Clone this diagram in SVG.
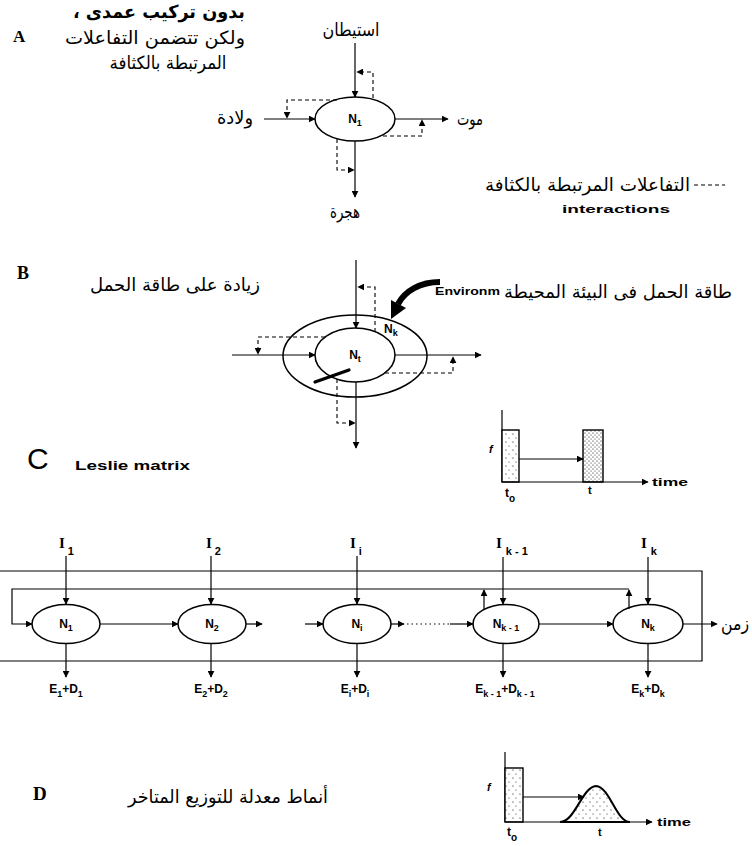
<svg xmlns="http://www.w3.org/2000/svg" width="752" height="846" viewBox="0 0 752 846">
  <defs>
    <style>
      .ln { stroke: #000; stroke-width: 1.2; fill: none; }
      .dash { stroke: #000; stroke-width: 1.1; fill: none; stroke-dasharray: 4 3; }
      .ell { stroke: #000; stroke-width: 1.5; fill: #fff; }
      .ar { font-family: "DejaVu Sans", sans-serif; font-size: 18px; fill: #000; }
      .lat { font-family: "Liberation Sans", Arial, sans-serif; font-weight: bold; fill: #000; }
      .ser { font-family: "Liberation Serif", "Times New Roman", serif; font-weight: bold; fill: #000; }
      .nd { font-family: "Liberation Sans", Arial, sans-serif; font-weight: bold; font-size: 12px; fill: #000; }
      .sub { font-size: 9px; }
    </style>
    <marker id="ah" viewBox="0 0 10 10" refX="9" refY="5" markerWidth="7" markerHeight="7" markerUnits="userSpaceOnUse" orient="auto">
      <path d="M0,0 L10,5 L0,10 z" fill="#000"/>
    </marker>
    <pattern id="dotsSparse" width="7" height="8" patternUnits="userSpaceOnUse">
      <rect width="7" height="8" fill="#fff"/>
      <circle cx="2" cy="2" r="0.6" fill="#000"/>
      <circle cx="5" cy="6" r="0.5" fill="#000"/>
    </pattern>
    <pattern id="dotsDense" width="4" height="4" patternUnits="userSpaceOnUse">
      <rect width="4" height="4" fill="#fff"/>
      <circle cx="1" cy="1" r="0.6" fill="#000"/>
      <circle cx="3" cy="3" r="0.5" fill="#000"/>
    </pattern>
  </defs>

  <!-- Panel A: single population with density-dependent interactions -->
  <g id="panelA-labels">
    <text class="ser" x="13" y="42" font-size="17">A</text>
    <text class="ar" x="159" y="18" direction="rtl" text-anchor="middle" font-weight="bold" textLength="172" lengthAdjust="spacingAndGlyphs">بدون تركيب عمدى ،</text>
    <text class="ar" x="155" y="44" text-anchor="middle" textLength="180" lengthAdjust="spacingAndGlyphs">ولكن تتضمن التفاعلات</text>
    <text class="ar" x="168" y="69" text-anchor="middle" textLength="117" lengthAdjust="spacingAndGlyphs">المرتبطة بالكثافة</text>
    <text class="ar" x="351" y="36" text-anchor="middle" textLength="57" lengthAdjust="spacingAndGlyphs">استيطان</text>
    <text class="ar" x="253" y="124" text-anchor="end" textLength="36" lengthAdjust="spacingAndGlyphs">ولادة</text>
    <text class="ar" x="457" y="125" textLength="26" lengthAdjust="spacingAndGlyphs">موت</text>
    <text class="ar" x="345" y="218" text-anchor="middle" textLength="30" lengthAdjust="spacingAndGlyphs">هجرة</text>
    <text class="ar" x="690" y="191" text-anchor="end" textLength="205" lengthAdjust="spacingAndGlyphs">التفاعلات المرتبطة بالكثافة</text>
    <line class="dash" x1="694" y1="185" x2="725" y2="185" stroke-dasharray="4 2.5"/>
    <text class="lat" x="562" y="213" font-size="10" textLength="108" lengthAdjust="spacingAndGlyphs">interactions</text>
  </g>
  <g id="nodeA-N1">
    <ellipse class="ell" cx="355" cy="119" rx="40" ry="22"/>
    <text class="nd" x="355" y="123" text-anchor="middle">N<tspan class="sub" dy="3">1</tspan></text>
  </g>
  <g id="connectorsA">
    <path class="ln" d="M355,43 L355,97" marker-end="url(#ah)"/>
    <path class="ln" d="M264,119 L315,119" marker-end="url(#ah)"/>
    <path class="ln" d="M395,119 L448,119" marker-end="url(#ah)"/>
    <path class="ln" d="M355,141 L355,197" marker-end="url(#ah)"/>
    <path class="dash" d="M373,98 L373,72 L357,72" marker-end="url(#ah)"/>
    <path class="dash" d="M337,100 L287,100 L287,118" marker-end="url(#ah)"/>
    <path class="dash" d="M383,136 L422,136 L422,120" marker-end="url(#ah)"/>
    <path class="dash" d="M337,139 L337,170 L354,170" marker-end="url(#ah)"/>
  </g>

  <!-- Panel B: population within environmental carrying capacity -->
  <g id="panelB-labels">
    <text class="ser" x="17" y="279" font-size="18">B</text>
    <text class="ar" x="175" y="291" text-anchor="middle" textLength="170" lengthAdjust="spacingAndGlyphs">زيادة على طاقة الحمل</text>
    <text class="ar" x="732" y="298" text-anchor="end" textLength="228" lengthAdjust="spacingAndGlyphs">طاقة الحمل فى البيئة المحيطة</text>
    <text class="lat" x="435" y="295" font-size="10" textLength="65" lengthAdjust="spacingAndGlyphs">Environm</text>
  </g>
  <g id="nodeB-Nk">
    <ellipse class="ell" cx="355" cy="356" rx="72" ry="41"/>
    <text class="nd" x="384" y="333">N<tspan class="sub" dy="3">k</tspan></text>
  </g>
  <g id="nodeB-Nt">
    <ellipse class="ell" cx="355" cy="355" rx="40" ry="27"/>
    <text class="nd" x="355" y="359" text-anchor="middle">N<tspan class="sub" dy="3">t</tspan></text>
  </g>
  <g id="connectorsB">
    <path class="ln" d="M356,260 L356,328" marker-end="url(#ah)"/>
    <path class="ln" d="M232,355 L315,355" marker-end="url(#ah)"/>
    <path class="ln" d="M395,355 L481,355" marker-end="url(#ah)"/>
    <path class="ln" d="M356,382 L356,448" marker-end="url(#ah)"/>
    <path class="dash" d="M375,332 L375,287 L358,287" marker-end="url(#ah)"/>
    <path class="dash" d="M325,337 L258,337 L258,354" marker-end="url(#ah)"/>
    <path class="dash" d="M385,373 L453,373 L453,357" marker-end="url(#ah)"/>
    <path class="dash" d="M337,379 L337,423 L355,423" marker-end="url(#ah)"/>
    <line x1="315" y1="382" x2="349" y2="370" stroke="#000" stroke-width="3.2" stroke-linecap="round"/>
    <path d="M440,282 C420,282 405,291 398,304" stroke="#000" stroke-width="6" fill="none"/>
    <polygon points="391,319 391,300 406,308" fill="#000"/>
  </g>

  <!-- Panel C: pulse graph and Leslie matrix chain -->
  <g id="pulseC">
    <path class="ln" d="M502,410 L502,482"/>
    <rect x="502" y="430" width="17" height="52" fill="url(#dotsSparse)" stroke="#000" stroke-width="1.4"/>
    <rect x="583" y="430" width="20" height="52" fill="url(#dotsDense)" stroke="#000" stroke-width="1.4"/>
    <path class="ln" d="M519,459 L583,459" marker-end="url(#ah)"/>
    <path class="ln" d="M502,482 L648,482" stroke-width="1.5" marker-end="url(#ah)"/>
    <text class="lat" x="652" y="486" font-size="10" textLength="36" lengthAdjust="spacingAndGlyphs">time</text>
    <text class="lat" x="489" y="453" font-size="11" font-style="italic">f</text>
    <text class="lat" x="505" y="497" font-size="12">t<tspan font-size="10" dy="5">o</tspan></text>
    <text class="lat" x="588" y="494" font-size="11">t</text>
  </g>
  <g id="panelC-labels">
    <text x="27" y="469" font-family="'Liberation Sans', Arial, sans-serif" font-size="30" fill="#000">C</text>
    <text class="lat" x="75" y="470" font-size="12" textLength="115" lengthAdjust="spacingAndGlyphs">Leslie matrix</text>
    <text class="ar" x="749" y="630" text-anchor="end" textLength="28" lengthAdjust="spacingAndGlyphs">زمن</text>
  </g>
  <g id="frameC">
    <path class="ln" d="M0,571 L702,571 L702,661 L0,661" stroke-width="1.6"/>
  </g>
  <g id="nodeC-N1">
    <ellipse class="ell" cx="66" cy="624" rx="34" ry="19.5"/>
    <text class="nd" x="66" y="628" text-anchor="middle">N<tspan class="sub" dy="3">1</tspan></text>
    <text class="ser" x="59" y="548" font-size="15">I<tspan class="lat" font-size="11" dx="3" dy="7">1</tspan></text>
    <text class="lat" x="66" y="693" font-size="12" text-anchor="middle">E<tspan font-size="9" dy="4">1</tspan><tspan dy="-4">+D</tspan><tspan font-size="9" dy="4">1</tspan></text>
  </g>
  <g id="nodeC-N2">
    <ellipse class="ell" cx="212" cy="624" rx="34" ry="19.5"/>
    <text class="nd" x="212" y="628" text-anchor="middle">N<tspan class="sub" dy="3">2</tspan></text>
    <text class="ser" x="206" y="548" font-size="15">I<tspan class="lat" font-size="11" dx="3" dy="7">2</tspan></text>
    <text class="lat" x="211" y="693" font-size="12" text-anchor="middle">E<tspan font-size="9" dy="4">2</tspan><tspan dy="-4">+D</tspan><tspan font-size="9" dy="4">2</tspan></text>
  </g>
  <g id="nodeC-Ni">
    <ellipse class="ell" cx="357" cy="624" rx="34" ry="19.5"/>
    <text class="nd" x="357" y="628" text-anchor="middle">N<tspan class="sub" dy="3">i</tspan></text>
    <text class="ser" x="350" y="548" font-size="15">I<tspan class="lat" font-size="11" dx="3" dy="7">i</tspan></text>
    <text class="lat" x="355" y="693" font-size="12" text-anchor="middle">E<tspan font-size="9" dy="4">i</tspan><tspan dy="-4">+D</tspan><tspan font-size="9" dy="4">i</tspan></text>
  </g>
  <g id="nodeC-Nk1">
    <ellipse class="ell" cx="506" cy="624" rx="33" ry="19.5"/>
    <text class="nd" x="506" y="628" text-anchor="middle">N<tspan class="sub" dy="3">k - 1</tspan></text>
    <text class="ser" x="496" y="548" font-size="15">I<tspan class="lat" font-size="11" dx="4" dy="7">k - 1</tspan></text>
    <text class="lat" x="505" y="693" font-size="12" text-anchor="middle">E<tspan font-size="9" dy="4">k - 1</tspan><tspan dy="-4">+D</tspan><tspan font-size="9" dy="4">k - 1</tspan></text>
  </g>
  <g id="nodeC-Nk">
    <ellipse class="ell" cx="648" cy="624" rx="35" ry="19.5"/>
    <text class="nd" x="648" y="628" text-anchor="middle">N<tspan class="sub" dy="3">k</tspan></text>
    <text class="ser" x="641" y="548" font-size="15">I<tspan class="lat" font-size="11" dx="4" dy="7">k</tspan></text>
    <text class="lat" x="648" y="693" font-size="12" text-anchor="middle">E<tspan font-size="9" dy="4">k</tspan><tspan dy="-4">+D</tspan><tspan font-size="9" dy="4">k</tspan></text>
  </g>
  <g id="connectorsC">
    <!-- inputs -->
    <path class="ln" d="M66,556 L66,604" marker-end="url(#ah)"/>
    <path class="ln" d="M211,556 L211,604" marker-end="url(#ah)"/>
    <path class="ln" d="M357,556 L357,604" marker-end="url(#ah)"/>
    <path class="ln" d="M503,557 L503,604" marker-end="url(#ah)"/>
    <path class="ln" d="M648,557 L648,604" marker-end="url(#ah)"/>
    <!-- losses -->
    <path class="ln" d="M66,644 L66,677" marker-end="url(#ah)"/>
    <path class="ln" d="M211,644 L211,677" marker-end="url(#ah)"/>
    <path class="ln" d="M357,644 L357,677" marker-end="url(#ah)"/>
    <path class="ln" d="M503,644 L503,677" marker-end="url(#ah)"/>
    <path class="ln" d="M648,644 L648,677" marker-end="url(#ah)"/>
    <!-- ageing chain -->
    <path class="ln" d="M100,624 L178,624" marker-end="url(#ah)"/>
    <path class="ln" d="M246,624 L262,624" marker-end="url(#ah)"/>
    <path class="ln" d="M305,624 L323,624" marker-end="url(#ah)"/>
    <path class="ln" d="M391,624 L404,624" marker-end="url(#ah)"/>
    <path class="ln" d="M407,624 L450,624" stroke-dasharray="1.5 3"/>
    <path class="ln" d="M450,624 L473,624" marker-end="url(#ah)"/>
    <path class="ln" d="M539,624 L613,624" marker-end="url(#ah)"/>
    <path class="ln" d="M683,624 L717,624" marker-end="url(#ah)"/>
    <!-- fecundity feedback -->
    <path class="ln" d="M629,589 L12,589 L12,624 L32,624" stroke-width="1" marker-end="url(#ah)"/>
    <path class="ln" d="M484,610 L484,590" marker-end="url(#ah)"/>
    <path class="ln" d="M629,609 L629,590" marker-end="url(#ah)"/>
  </g>

  <!-- Panel D: time-distributed delay -->
  <g id="panelD-labels">
    <text class="ser" x="33" y="800" font-size="19">D</text>
    <text class="ar" x="228" y="803" text-anchor="middle" textLength="200" lengthAdjust="spacingAndGlyphs">أنماط معدلة للتوزيع المتاخر</text>
  </g>
  <g id="pulseD">
    <path class="ln" d="M505,752 L505,822"/>
    <rect x="505" y="768" width="18" height="54" fill="url(#dotsSparse)" stroke="#000" stroke-width="1.4"/>
    <path d="M560,822 C575,822 582,787 596,786 C610,787 616,822 630,822 Z" fill="url(#dotsSparse)" stroke="#000" stroke-width="2"/>
    <path class="ln" d="M523,797 L584,797" marker-end="url(#ah)"/>
    <path class="ln" d="M505,822 L652,822" stroke-width="1.5" marker-end="url(#ah)"/>
    <text class="lat" x="657" y="826" font-size="10" textLength="34" lengthAdjust="spacingAndGlyphs">time</text>
    <text class="lat" x="487" y="791" font-size="11" font-style="italic">f</text>
    <text class="lat" x="507" y="836" font-size="12">t<tspan font-size="10" dy="5">o</tspan></text>
    <text class="lat" x="598" y="836" font-size="11">t</text>
  </g>
</svg>
